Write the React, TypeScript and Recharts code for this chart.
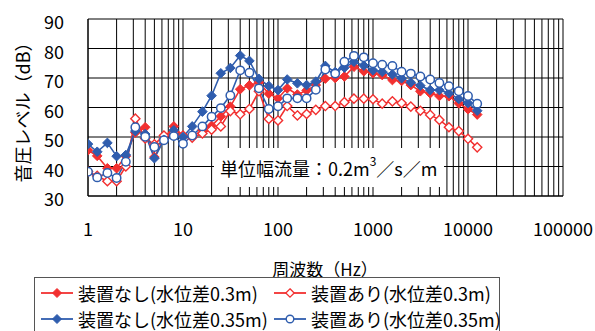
import React from 'react';
import { LineChart, Line, XAxis, YAxis, CartesianGrid } from 'recharts';

// 1/3 octave band centre frequencies (Hz)
const FREQS = [1, 1.25, 1.6, 2, 2.5, 3.15, 4, 5, 6.3, 8, 10, 12.5, 16, 20, 25, 31.5, 40, 50, 63, 80, 100, 125, 160, 200, 250, 315, 400, 500, 630, 800, 1000, 1250, 1600, 2000, 2500, 3150, 4000, 5000, 6300, 8000, 10000, 12500];

// 装置なし（水位差0.3m）
const NASHI_03 = [45.5, 43.6, 39.4, 39.4, 43.5, 51.5, 53.3, 43.2, 49.5, 53.6, 50.3, 50.0, 52.4, 53.8, 57.0, 60.3, 66.2, 67.5, 68.5, 64.7, 63.1, 66.5, 64.4, 65.8, 67.6, 69.8, 70.0, 70.5, 73.8, 72.3, 71.6, 71.0, 69.3, 69.0, 67.6, 65.5, 64.8, 63.9, 63.8, 61.4, 59.4, 57.6];
// 装置あり（水位差0.3m）
const ARI_03 = [38.3, 36.8, 35.0, 35.0, 40.0, 56.2, 49.5, 47.5, 50.5, 51.5, 50.5, 49.8, 51.2, 52.5, 53.6, 58.8, 57.7, 59.5, 65.5, 56.1, 55.6, 60.5, 57.3, 57.8, 59.2, 60.5, 60.5, 61.8, 63.0, 63.0, 62.8, 61.3, 62.1, 61.5, 60.3, 58.9, 57.5, 55.8, 53.3, 52.0, 49.4, 46.5];
// 装置なし（水位差0.35m）
const NASHI_035 = [47.6, 45.0, 48.0, 43.5, 43.9, 52.0, 51.0, 42.8, 49.0, 52.3, 50.0, 53.6, 58.6, 64.0, 71.6, 73.4, 77.6, 75.8, 69.7, 67.3, 65.9, 69.5, 68.2, 67.6, 68.8, 74.1, 72.0, 73.5, 75.5, 74.2, 72.6, 72.1, 71.2, 69.9, 68.5, 67.4, 65.9, 65.9, 64.8, 62.9, 61.5, 58.9];
// 装置あり（水位差0.35m）
const ARI_035 = [38.2, 36.3, 37.8, 36.1, 41.6, 53.3, 50.1, 46.6, 48.9, 50.3, 47.7, 50.5, 53.6, 56.9, 59.8, 64.1, 72.6, 71.8, 66.5, 59.5, 60.4, 63.1, 63.1, 63.1, 66.0, 72.9, 71.5, 75.5, 77.5, 77.0, 75.0, 74.5, 74.1, 72.1, 71.5, 70.5, 69.5, 68.3, 67.2, 65.5, 63.9, 61.3];

const X_DECADES = [1, 10, 100, 1000, 10000, 100000];
const X_MINOR_MULTIPLIERS = [1, 2, 3, 4, 5, 6, 7, 8, 9];
const Y_TICKS = [30, 40, 50, 60, 70, 80, 90];

const SERIES_LABELS = ['装置なし(水位差0.3m)', '装置あり(水位差0.3m)', '装置なし(水位差0.35m)', '装置あり(水位差0.35m)'];
const X_LABEL = '周波数（Hz）';
const Y_LABEL = '音圧レベル（dB）';
const NOTE_MAIN = '単位幅流量：0.2m';
const NOTE_SUP = '3';
const NOTE_TAIL = '／s／m';

const RED = '#F23030';
const BLUE = '#2F5DAE';
const FONT = '"Noto Sans CJK JP", "Noto Sans", sans-serif';

const data = FREQS.map((f, i) => ({
  f,
  nashi03: NASHI_03[i],
  ari03: ARI_03[i],
  nashi035: NASHI_035[i],
  ari035: ARI_035[i],
}));

const xGridTicks: number[] = [];
X_DECADES.slice(0, -1).forEach((d) => X_MINOR_MULTIPLIERS.forEach((m) => xGridTicks.push(d * m)));
xGridTicks.push(X_DECADES[X_DECADES.length - 1]);

const diamondPath = (cx: number, cy: number, r: number) =>
  `M${cx},${cy - r} L${cx + r},${cy} L${cx},${cy + r} L${cx - r},${cy} Z`;

const makeDot = (kind: 'fd' | 'od' | 'oc', color: string) => (props: any) => {
  const { cx, cy, index } = props;
  if (cx == null || cy == null) return <g key={`e${index}`} />;
  if (kind === 'fd') return <path key={`d${index}`} d={diamondPath(cx, cy, 4.8)} fill={color} stroke={color} strokeWidth={1} />;
  if (kind === 'od') return <path key={`d${index}`} d={diamondPath(cx, cy, 4.6)} fill="#fff" stroke={color} strokeWidth={1.4} />;
  return <circle key={`d${index}`} cx={cx} cy={cy} r={4.2} fill="#fff" stroke={color} strokeWidth={1.5} />;
};

const XTick = (props: any) => {
  const { x, y, payload } = props;
  if (!X_DECADES.includes(payload.value)) return <g />;
  return (
    <text x={x} y={y + 24} textAnchor="middle" dominantBaseline="central" fontSize={18} fontFamily={FONT} fill="#000">
      {payload.value}
    </text>
  );
};

const YTick = (props: any) => {
  const { x, y, payload } = props;
  return (
    <text x={x - 16} y={y + 2} textAnchor="end" dominantBaseline="central" fontSize={18} fontFamily={FONT} fill="#000">
      {payload.value}
    </text>
  );
};

const LegendIcon = ({ kind, color }: { kind: 'fd' | 'od' | 'oc'; color: string }) => (
  <svg width={34} height={14} style={{ display: 'block' }}>
    <line x1={1} y1={7} x2={33} y2={7} stroke={color} strokeWidth={1.8} />
    {kind === 'fd' && <path d={diamondPath(17, 7, 4.5)} fill={color} stroke={color} />}
    {kind === 'od' && <path d={diamondPath(17, 7, 4.2)} fill="#fff" stroke={color} strokeWidth={1.3} />}
    {kind === 'oc' && <circle cx={17} cy={7} r={3.8} fill="#fff" stroke={color} strokeWidth={1.4} />}
  </svg>
);

const LEGEND_ITEMS: { kind: 'fd' | 'od' | 'oc'; color: string; label: string; left: number; top: number }[] = [
  { kind: 'fd', color: RED, label: SERIES_LABELS[0], left: 5, top: 15 },
  { kind: 'od', color: RED, label: SERIES_LABELS[1], left: 238, top: 15 },
  { kind: 'fd', color: BLUE, label: SERIES_LABELS[2], left: 5, top: 41 },
  { kind: 'oc', color: BLUE, label: SERIES_LABELS[3], left: 238, top: 41 },
];

export default function App() {
  return (
    <div style={{ position: 'absolute', left: 0, top: 0, width: 595, height: 331, overflow: 'hidden', background: '#fff', fontFamily: FONT }}>
      <LineChart width={595} height={331} data={data} margin={{ top: 19, right: 32, left: 0, bottom: 95 }}>
        <CartesianGrid stroke="#000" strokeWidth={1} vertical horizontal />
        <XAxis
          dataKey="f"
          type="number"
          scale="log"
          domain={[1, 100000]}
          ticks={xGridTicks}
          interval={0}
          allowDataOverflow
          tick={<XTick />}
          tickLine={false}
          axisLine={{ stroke: '#000' }}
          height={40}
        />
        <YAxis
          type="number"
          domain={[30, 90]}
          ticks={Y_TICKS}
          interval={0}
          tick={<YTick />}
          tickLine={false}
          axisLine={{ stroke: '#000' }}
          width={88}
        />
        <Line dataKey="nashi03" stroke={RED} strokeWidth={1.6} dot={makeDot('fd', RED)} isAnimationActive={false} />
        <Line dataKey="ari03" stroke={RED} strokeWidth={1.6} dot={makeDot('od', RED)} isAnimationActive={false} />
        <Line dataKey="nashi035" stroke={BLUE} strokeWidth={1.6} dot={makeDot('fd', BLUE)} isAnimationActive={false} />
        <Line dataKey="ari035" stroke={BLUE} strokeWidth={1.6} dot={makeDot('oc', BLUE)} isAnimationActive={false} />
      </LineChart>

      {/* annotation box */}
      <div style={{ position: 'absolute', left: 214, top: 148, width: 230, height: 39, background: '#fff', display: 'flex', alignItems: 'center', justifyContent: 'flex-start', paddingLeft: 6, boxSizing: 'border-box', fontSize: 18, color: '#000', whiteSpace: 'nowrap' }}>
        <span>{NOTE_MAIN}</span>
        <span style={{ fontSize: 12, position: 'relative', top: -7 }}>{NOTE_SUP}</span>
        <span>{NOTE_TAIL}</span>
      </div>

      {/* y axis title */}
      <div style={{ position: 'absolute', left: 22, top: 108, transform: 'translate(-50%, -50%) rotate(-90deg)', fontSize: 18, lineHeight: '20px', whiteSpace: 'nowrap', color: '#000' }}>
        {Y_LABEL}
      </div>

      {/* x axis title */}
      <div style={{ position: 'absolute', left: 325, top: 268, transform: 'translate(-50%, -50%)', fontSize: 17, whiteSpace: 'nowrap', color: '#000' }}>
        {X_LABEL}
      </div>

      {/* legend */}
      <div style={{ position: 'absolute', left: 34, top: 277, width: 466, height: 70, border: '1px solid #555', boxSizing: 'border-box', background: '#fff' }}>
        {LEGEND_ITEMS.map((it, i) => (
          <div key={i} style={{ position: 'absolute', left: it.left, top: it.top, transform: 'translateY(-50%)', display: 'flex', alignItems: 'center', whiteSpace: 'nowrap', height: 20 }}>
            <LegendIcon kind={it.kind} color={it.color} />
            <span style={{ marginLeft: 4, fontSize: 18, lineHeight: '20px', color: '#000' }}>{it.label}</span>
          </div>
        ))}
      </div>
    </div>
  );
}
